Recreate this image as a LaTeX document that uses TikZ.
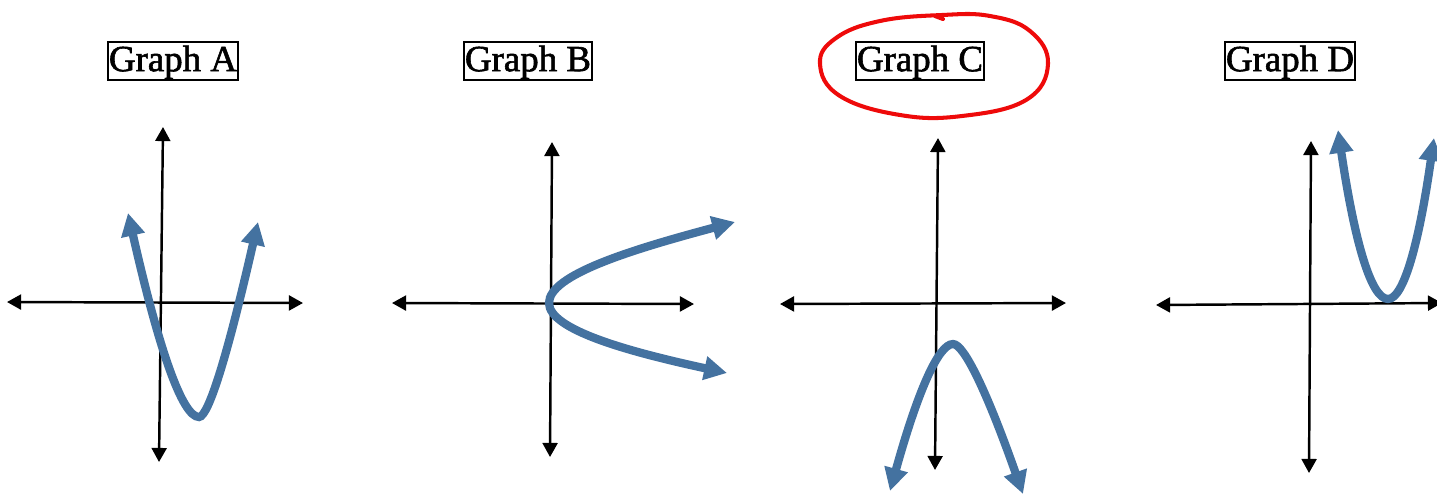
\documentclass[tikz,border=0pt]{standalone}
\usepackage{fontspec}
\setmainfont{Liberation Serif}
\newfontfamily\titlefont[FakeBold=1.6]{Liberation Serif}
\usepackage{xcolor}
\usetikzlibrary{arrows.meta}
\definecolor{CurvaAzul}{RGB}{68,114,160}
\definecolor{MarcaRoja}{RGB}{238,10,10}

\begin{document}
\begin{tikzpicture}[x=0.02cm,y=-0.02cm,
  axis/.style={line width=1.4pt,{Triangle[length=8pt,width=8.5pt]}-{Triangle[length=8pt,width=8.5pt]}},
  curve/.style={line width=4.7pt,CurvaAzul,{Triangle[length=13pt,width=13pt]}-{Triangle[length=13pt,width=13pt]}},
  title/.style={draw,line width=0.8pt,inner xsep=0.5pt,inner ysep=2pt,text depth=3pt,font=\titlefont\fontsize{21}{24}\selectfont}]
  \useasboundingbox (0,0) rectangle (1437,495);

  % titles
  \node[title] (labA) at (173,61) {Graph A};
  \node[title] (labB) at (528,61) {Graph B};
  \node[title] (labC) at (920,61) {Graph C};
  \node[title] (labD) at (1290,61) {Graph D};
  \draw[MarcaRoja,line width=2.3pt,line cap=round]
    plot[smooth cycle,tension=0.7] coordinates {(942,15) (880,21) (836,38) (820,64)
      (840,96) (900,115) (962,116) (1026,100) (1048,64) (1030,31) (990,16)};
  \draw[MarcaRoja,line width=2.3pt,line cap=round] (935,16) -- (943,19);

  % Graph A
  \coordinate (A-l) at (7,302);   \coordinate (A-r) at (303,303);
  \coordinate (A-t) at (163,127); \coordinate (A-b) at (159,462);
  \draw[axis] (A-l) -- (A-r);
  \draw[axis] (A-b) -- (A-t);
  \draw[curve] (128,213) .. controls (158.7,349) and (182.3,417) .. (199,417)
    .. controls (208.7,417) and (228.3,352) .. (258,222);

  % Graph B
  \coordinate (B-l) at (392,303); \coordinate (B-r) at (694,304);
  \coordinate (B-t) at (552,142); \coordinate (B-b) at (550,457);
  \draw[axis] (B-l) -- (B-r);
  \draw[axis] (B-b) -- (B-t);
  \draw[curve] (735,222) .. controls (630,250) and (549,275) .. (549,303)
    .. controls (549,330) and (630,352) .. (727,373);

  % Graph C
  \coordinate (C-l) at (780,304); \coordinate (C-r) at (1066,303);
  \coordinate (C-t) at (938,138); \coordinate (C-b) at (935,470);
  \draw[axis] (C-l) -- (C-r);
  \draw[axis] (C-b) -- (C-t);
  \draw[curve] (890,491) .. controls (917.3,393) and (938.3,344) .. (953,344)
    .. controls (964.3,344) and (987.7,394) .. (1023,494);

  % Graph D
  \coordinate (D-l) at (1156,305); \coordinate (D-r) at (1442,303);
  \coordinate (D-t) at (1311,141); \coordinate (D-b) at (1309,473);
  \draw[axis] (D-l) -- (D-r);
  \draw[axis] (D-b) -- (D-t);
  \draw[curve] (1338,130) .. controls (1354.7,242.7) and (1371.3,299) .. (1388,299)
    .. controls (1403.3,299) and (1418.7,245.3) .. (1434,138);
\end{tikzpicture}
\end{document}
